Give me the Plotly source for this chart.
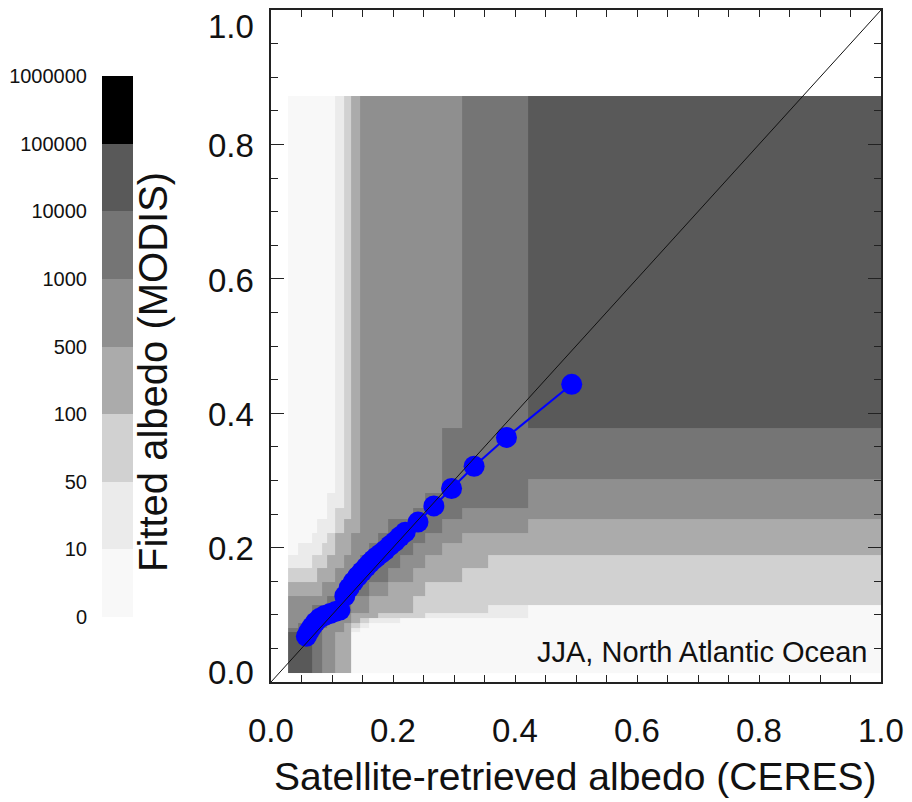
import plotly.graph_objects as go

# ---------------- data ----------------
# CERES albedo bin edges (x) and MODIS fitted albedo bin edges (y)
x_edges = [0.028, 0.045, 0.058, 0.067, 0.075, 0.083, 0.092, 0.105, 0.119, 0.132,
           0.146, 0.161, 0.176, 0.192, 0.212, 0.233, 0.252, 0.280, 0.313, 0.356,
           0.422, 1.0]
y_edges = [0.013, 0.035, 0.052, 0.065, 0.074, 0.081, 0.088, 0.095, 0.103, 0.114,
           0.128, 0.149, 0.169, 0.189, 0.207, 0.222, 0.242, 0.259, 0.281, 0.302,
           0.378, 0.872]

# count class of each cell (rows bottom -> top, columns left -> right)
# 0:0-10 1:10-50 2:50-100 3:100-500 4:500-1000 5:1000-1e4 6:1e4-1e5 7:1e5-1e6
count_class = [
    [6, 6, 6, 5, 5, 4, 4, 3, 3, 0, 0, 0, 0, 0, 0, 0, 0, 0, 0, 0, 0],
    [6, 6, 6, 5, 5, 4, 4, 3, 3, 0, 0, 0, 0, 0, 0, 0, 0, 0, 0, 0, 0],
    [6, 6, 6, 5, 5, 4, 4, 3, 3, 0, 0, 0, 0, 0, 0, 0, 0, 0, 0, 0, 0],
    [6, 6, 6, 5, 5, 4, 4, 3, 3, 0, 0, 0, 0, 0, 0, 0, 0, 0, 0, 0, 0],
    [5, 5, 5, 5, 5, 4, 4, 4, 3, 1, 0, 0, 0, 0, 0, 0, 0, 0, 0, 0, 0],
    [4, 5, 5, 5, 5, 5, 4, 4, 3, 2, 1, 0, 0, 0, 0, 0, 0, 0, 0, 0, 0],
    [4, 4, 5, 5, 5, 5, 5, 4, 4, 3, 2, 1, 1, 1, 0, 0, 0, 0, 0, 0, 0],
    [4, 4, 4, 5, 5, 5, 5, 5, 4, 3, 3, 3, 2, 2, 2, 2, 1, 1, 1, 1, 0],
    [4, 4, 4, 5, 5, 5, 5, 5, 5, 4, 4, 3, 3, 3, 3, 2, 2, 2, 2, 1, 0],
    [4, 4, 4, 4, 4, 4, 5, 5, 5, 4, 4, 3, 3, 3, 3, 2, 2, 2, 2, 2, 2],
    [3, 3, 3, 3, 3, 4, 4, 4, 5, 5, 5, 4, 4, 3, 3, 3, 2, 2, 2, 2, 2],
    [2, 2, 2, 2, 3, 3, 3, 4, 4, 5, 5, 5, 5, 4, 4, 3, 3, 3, 2, 2, 2],
    [1, 1, 1, 2, 2, 2, 3, 3, 4, 4, 5, 5, 5, 5, 4, 4, 3, 3, 3, 2, 2],
    [0, 1, 1, 1, 1, 2, 2, 3, 3, 4, 4, 5, 5, 5, 5, 4, 4, 3, 3, 3, 3],
    [0, 0, 0, 1, 1, 1, 2, 3, 3, 4, 4, 4, 5, 5, 5, 5, 4, 4, 3, 3, 3],
    [0, 0, 0, 0, 1, 1, 1, 2, 3, 3, 4, 4, 4, 5, 5, 5, 5, 4, 4, 4, 3],
    [0, 0, 0, 0, 0, 0, 1, 2, 2, 3, 4, 4, 4, 4, 4, 5, 5, 5, 4, 4, 4],
    [0, 0, 0, 0, 0, 0, 1, 1, 2, 3, 4, 4, 4, 4, 4, 4, 5, 5, 5, 5, 4],
    [0, 0, 0, 0, 0, 0, 0, 1, 2, 3, 4, 4, 4, 4, 4, 4, 4, 5, 5, 5, 4],
    [0, 0, 0, 0, 0, 0, 0, 1, 2, 3, 4, 4, 4, 4, 4, 4, 4, 5, 5, 5, 5],
    [0, 0, 0, 0, 0, 0, 0, 1, 2, 3, 4, 4, 4, 4, 4, 4, 4, 4, 5, 5, 6],
]

class_labels = ["0", "10", "50", "100", "500", "1000", "10000", "100000", "1000000"]
class_colors = ["#f8f8f8", "#ebebeb", "#d1d1d1", "#ababab", "#8f8f8f",
                "#757575", "#595959", "#000000"]

# binned mean curve (blue)
ceres_mean = [0.058, 0.062, 0.067, 0.073, 0.080, 0.088, 0.097, 0.106, 0.113, 0.121,
              0.128, 0.135, 0.142, 0.149, 0.156, 0.162, 0.168, 0.173, 0.180, 0.187,
              0.195, 0.203, 0.211, 0.220, 0.241, 0.267, 0.296, 0.333, 0.386, 0.493]
modis_mean = [0.068, 0.075, 0.082, 0.089, 0.095, 0.099, 0.102, 0.105, 0.107, 0.128,
              0.140, 0.149, 0.157, 0.164, 0.171, 0.177, 0.182, 0.186, 0.191, 0.196,
              0.203, 0.209, 0.216, 0.223, 0.238, 0.262, 0.288, 0.321, 0.364, 0.443]

one_to_one = [0.0, 1.0]
axis_ticks = [0.0, 0.2, 0.4, 0.6, 0.8, 1.0]
axis_tick_text = ["0.0", "0.2", "0.4", "0.6", "0.8", "1.0"]
region_label = "JJA, North Atlantic Ocean"

# ---------------- layout helpers ----------------
OFF = 8            # page body margin in the browser
W, H = 904, 794
ML, MR, MT, MB = 0, 31, 2, 120
PW = W - ML - MR
PH = H - MT - MB


def px(xp):
    """target-screen x pixel -> paper x"""
    return (xp - OFF - ML) / PW


def py(yp):
    """target-screen y pixel -> paper y"""
    return (H - MB - (yp - OFF)) / PH


FONT = "Liberation Sans, Arial, Helvetica, sans-serif"
TXT = "#111111"

n = len(class_colors)
cscale = []
for k, c in enumerate(class_colors):
    cscale.append([k / n, c])
    cscale.append([(k + 1) / n, c])

fig = go.Figure()
fig.add_trace(go.Heatmap(x=x_edges, y=y_edges, z=count_class, colorscale=cscale,
                         zmin=-0.5, zmax=n - 0.5, showscale=False, hoverinfo="skip"))
fig.add_trace(go.Scatter(x=ceres_mean, y=modis_mean, mode="lines+markers",
                         line=dict(color="#0000ff", width=2),
                         marker=dict(size=21, color="#0000ff"), showlegend=False))
fig.add_trace(go.Scatter(x=one_to_one, y=one_to_one, mode="lines",
                         line=dict(color="#111111", width=1), showlegend=False))
# legend bar as its own small heatmap
fig.add_trace(go.Heatmap(z=[[k] for k in range(n)], x=[0], y=list(range(n)),
                         xaxis="x2", yaxis="y2", colorscale=cscale,
                         zmin=-0.5, zmax=n - 0.5, showscale=False, hoverinfo="skip"))

x0 = 271
fig.update_layout(
    template="none",
    width=W, height=H, margin=dict(l=ML, r=MR, t=MT, b=MB, pad=0, autoexpand=False),
    paper_bgcolor="white", plot_bgcolor="white", showlegend=False,
    font=dict(family=FONT, color=TXT),
    xaxis=dict(domain=[px(x0), 1.0], range=[0, 1], showgrid=False, zeroline=False,
               automargin=False,
               showline=True, linecolor="#222", linewidth=1.5, mirror="ticks",
               ticks="inside", tick0=0, dtick=0.05, ticklen=7, tickcolor="#222",
               tickwidth=1.2, showticklabels=False),
    yaxis=dict(domain=[0, 1], range=[0, 1], showgrid=False, zeroline=False,
               automargin=False,
               showline=True, linecolor="#222", linewidth=1.5, mirror="ticks",
               ticks="inside", tick0=0, dtick=0.2, ticklen=13, tickcolor="#222",
               tickwidth=1.2, showticklabels=False,
               minor=dict(ticks="inside", dtick=0.05, ticklen=7, tickcolor="#222",
                          tickwidth=1.2, showgrid=False)),
    xaxis2=dict(domain=[px(102), px(133)], range=[-0.5, 0.5], visible=False,
                anchor="y2", automargin=False),
    yaxis2=dict(domain=[py(617), py(76)], anchor="x2", range=[-0.5, n - 0.5],
                automargin=False,
                tickmode="array", tickvals=[k - 0.5 for k in range(n + 1)],
                ticktext=class_labels, ticks="", showline=False, showgrid=False,
                zeroline=False, ticklabelstandoff=14,
                tickfont=dict(size=20, color=TXT, family=FONT)),
)

ann = []
# x tick labels
for v, t in zip(axis_ticks, axis_tick_text):
    ann.append(dict(x=px(x0 + 610 * v), y=py(730), xref="paper", yref="paper",
                    text=t, showarrow=False, xanchor="center", yanchor="middle",
                    font=dict(size=33, color=TXT, family=FONT)))
# y tick labels (end labels pulled inward, as in the original)
ylab_pos = {0.0: 672.5, 0.2: 548, 0.4: 414, 0.6: 280, 0.8: 146, 1.0: 26}
for v, t in zip(axis_ticks, axis_tick_text):
    ann.append(dict(x=px(256), y=py(ylab_pos[v]), xref="paper", yref="paper",
                    text=t, showarrow=False, xanchor="right", yanchor="middle",
                    font=dict(size=33, color=TXT, family=FONT)))
ann.append(dict(x=px(575), y=py(776), xref="paper", yref="paper",
                text="Satellite-retrieved albedo (CERES)", showarrow=False,
                xanchor="center", yanchor="middle",
                font=dict(size=39, color=TXT, family=FONT)))
ann.append(dict(x=px(153), y=py(372), xref="paper", yref="paper",
                text="Fitted albedo (MODIS)", showarrow=False, textangle=-90,
                xanchor="center", yanchor="middle",
                font=dict(size=40, color=TXT, family=FONT)))
ann.append(dict(x=px(869), y=py(652), xref="paper", yref="paper",
                text=region_label, showarrow=False, xanchor="right",
                yanchor="middle", font=dict(size=29, color=TXT, family=FONT)))
fig.update_layout(annotations=ann)

fig.write_html("out.html")
